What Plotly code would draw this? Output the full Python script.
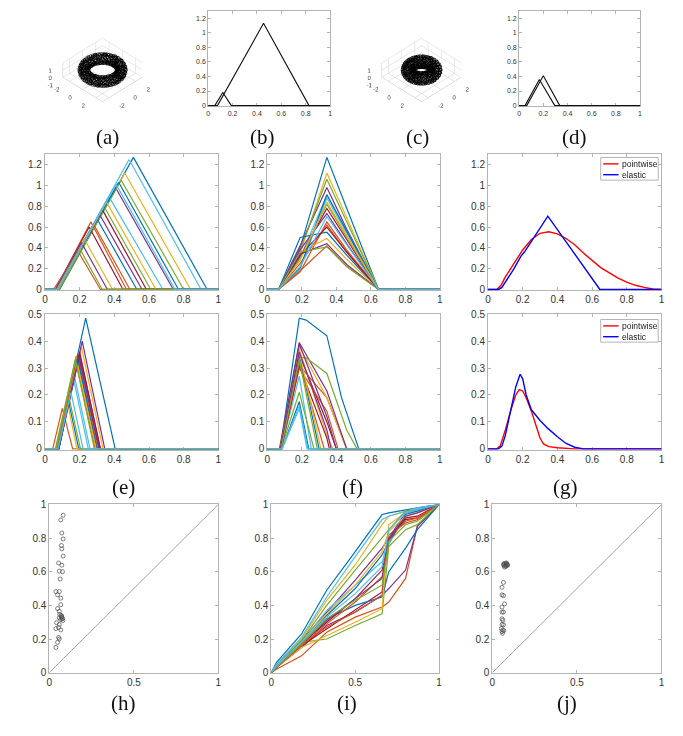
import numpy as np
import plotly.graph_objects as go

W, H = 683, 736
MC = ['#0072BD', '#D95319', '#EDB120', '#7E2F8E', '#77AC30', '#4DBEEE', '#A2142F']

# ---------------- data ----------------
# (a), (c): torus point clouds (R, r) and sample count
TORUS_A = (2.0, 0.5)
TORUS_C = (1.45, 0.6)
N_TORUS = 750
TICKS3_XY = [-2, 0, 2]
TICKS3_Z = [-1, 0, 1]

# (b) landscape triangles
B_START = [0.054, 0.076]
B_PEAK_X = [0.12, 0.454]
B_PEAK_Y = [0.18, 1.13]
B_END = [0.19, 0.827]
# (d)
D_START = [0.049, 0.063]
D_PEAK_X = [0.167, 0.20]
D_PEAK_Y = [0.358, 0.41]
D_END = [0.295, 0.336]

# (e) upper: triangles
E1_START = [0.085, 0.06, 0.08, 0.08, 0.08, 0.07, 0.06, 0.07, 0.05, 0.06,
            0.075, 0.075, 0.075, 0.075, 0.075, 0.07, 0.075, 0.06, 0.08, 0.07]
E1_PEAK_X = [0.51, 0.265, 0.46, 0.41, 0.44, 0.485, 0.255, 0.30, 0.19, 0.225,
             0.315, 0.34, 0.37, 0.33, 0.425, 0.28, 0.355, 0.21, 0.205, 0.41]
E1_PEAK_Y = [1.27, 0.65, 1.12, 0.97, 1.05, 1.25, 0.60, 0.68, 0.37, 0.49,
             0.72, 0.80, 0.89, 0.77, 1.03, 0.63, 0.84, 0.45, 0.38, 1.01]
E1_END = [0.935, 0.47, 0.84, 0.74, 0.80, 0.90, 0.45, 0.53, 0.32, 0.39,
          0.56, 0.61, 0.68, 0.585, 0.77, 0.49, 0.64, 0.36, 0.33, 0.75]

# (f) upper: aligned landscapes
F1_NODES_X = [0, 0.065, 0.19, 0.345, 0.46, 0.645, 1.0]
F1_AT19 = [0.40, 0.17, 0.35, 0.42, 0.38, 0.30, 0.32, 0.50, 0.25, 0.36,
           0.38, 0.30, 0.20, 0.33, 0.21, 0.18, 0.28, 0.34, 0.36, 0.22]
F1_PEAK = [1.27, 0.65, 1.12, 0.98, 1.06, 0.91, 0.78, 0.55, 0.62, 0.49,
           0.73, 0.82, 0.88, 0.60, 0.91, 0.42, 0.84, 0.44, 0.41, 0.70]
F1_AT46 = [0.78, 0.38, 0.69, 0.58, 0.65, 0.56, 0.48, 0.33, 0.36, 0.29,
           0.44, 0.50, 0.54, 0.36, 0.56, 0.22, 0.52, 0.24, 0.22, 0.43]

# (g) upper: means
G1_RED_X = [0, 0.05, 0.075, 0.1, 0.15, 0.2, 0.25, 0.3, 0.35, 0.4, 0.45, 0.5,
            0.55, 0.6, 0.65, 0.7, 0.75, 0.8, 0.85, 0.9, 0.95, 1.0]
G1_RED_Y = [0, 0, 0.04, 0.12, 0.25, 0.38, 0.48, 0.54, 0.555, 0.535, 0.49, 0.43,
            0.35, 0.28, 0.21, 0.16, 0.11, 0.07, 0.04, 0.02, 0.004, 0]
G1_BLUE_X = [0, 0.06, 0.08, 0.1, 0.15, 0.19, 0.21, 0.345, 0.645, 1.0]
G1_BLUE_Y = [0, 0, 0.02, 0.07, 0.2, 0.32, 0.36, 0.705, 0, 0]

# (e) lower
E2_START = [0.07, 0.045, 0.08, 0.08, 0.06, 0.08, 0.075, 0.08, 0.065, 0.07,
            0.08, 0.065, 0.075, 0.075, 0.08, 0.07, 0.075, 0.075, 0.065, 0.075]
E2_PEAK_X = [0.235, 0.10, 0.21, 0.215, 0.18, 0.17, 0.195, 0.135, 0.19, 0.13,
             0.20, 0.135, 0.165, 0.20, 0.19, 0.18, 0.185, 0.195, 0.175, 0.15]
E2_PEAK_Y = [0.485, 0.15, 0.38, 0.40, 0.345, 0.27, 0.35, 0.18, 0.34, 0.17,
             0.35, 0.20, 0.26, 0.36, 0.33, 0.32, 0.32, 0.34, 0.33, 0.21]
E2_END = [0.405, 0.16, 0.335, 0.345, 0.30, 0.26, 0.31, 0.195, 0.305, 0.185,
          0.32, 0.205, 0.25, 0.32, 0.30, 0.29, 0.295, 0.315, 0.285, 0.22]

# (f) lower
F2_PEAK_NODE = 0.185
F2_SHOULDER_NODE = 0.225
F2_MID_NODE = 0.345
F2_START = [0.075, 0.08, 0.075, 0.07, 0.075, 0.08, 0.075, 0.085, 0.08, 0.075,
            0.075, 0.08, 0.085, 0.08, 0.075, 0.075, 0.075, 0.075, 0.08, 0.085]
F2_PEAK = [0.485, 0.31, 0.38, 0.395, 0.34, 0.27, 0.35, 0.175, 0.30, 0.37,
           0.39, 0.21, 0.15, 0.31, 0.35, 0.32, 0.36, 0.36, 0.33, 0.16]
F2_SHOULDER = [0.478, None, None, None, 0.338, None, None, None, None, None,
               None, None, None, None, None, None, None, None, None, None]
F2_AT345 = [0.42, 0.19, 0.19, 0.215, 0.28, None, 0.10, None, 0.14, 0.05,
            0.12, None, None, 0.04, None, None, None, 0.07, None, None]
F2_KNEE = [(0.43, 0.19), None, None, None, (0.46, 0.07), None, None, None, None, None,
           None, None, None, None, None, None, None, None, None, None]
F2_END = [0.53, 0.46, 0.46, 0.46, 0.52, 0.255, 0.40, 0.24, 0.41, 0.38,
          0.40, 0.27, 0.23, 0.36, 0.30, 0.33, 0.31, 0.37, 0.29, 0.235]

# (g) lower
G2_RED_X = [0, 0.05, 0.07, 0.1, 0.13, 0.16, 0.18, 0.2, 0.22, 0.25, 0.28, 0.3,
            0.32, 0.35, 0.4, 0.45, 0.5, 1.0]
G2_RED_Y = [0, 0, 0.01, 0.07, 0.14, 0.2, 0.22, 0.215, 0.19, 0.14, 0.08, 0.04,
            0.018, 0.008, 0.004, 0.001, 0, 0]
G2_BLUE_X = [0, 0.06, 0.08, 0.1, 0.13, 0.16, 0.185, 0.2, 0.22, 0.25, 0.3, 0.345,
             0.4, 0.45, 0.5, 0.55, 1.0]
G2_BLUE_Y = [0, 0, 0.01, 0.05, 0.14, 0.23, 0.277, 0.26, 0.2, 0.145, 0.105, 0.076,
             0.045, 0.02, 0.006, 0, 0]

LEGEND_NAMES = ['pointwise', 'elastic']
LEGEND_COLORS = ['#ff0000', '#0000ff']

# (h) scatter
H_X = [0.082, 0.068, 0.074, 0.082, 0.072, 0.074, 0.082, 0.055, 0.074, 0.059,
       0.078, 0.064, 0.039, 0.059, 0.049, 0.068, 0.068, 0.049, 0.059, 0.062,
       0.074, 0.059, 0.078, 0.068, 0.043, 0.059, 0.055, 0.039, 0.068, 0.055,
       0.059, 0.049, 0.039, 0.072, 0.076, 0.08, 0.07]
H_Y = [0.936, 0.908, 0.83, 0.795, 0.756, 0.736, 0.693, 0.652, 0.639, 0.604,
       0.60, 0.557, 0.482, 0.482, 0.463, 0.443, 0.404, 0.381, 0.365, 0.346,
       0.336, 0.326, 0.32, 0.316, 0.297, 0.287, 0.268, 0.262, 0.254, 0.209,
       0.20, 0.18, 0.15, 0.33, 0.325, 0.31, 0.34]
# (j) scatter
J_X = [0.066, 0.07, 0.074, 0.078, 0.082, 0.086, 0.09, 0.072, 0.08, 0.088,
       0.068, 0.084, 0.066, 0.057, 0.057, 0.066, 0.072, 0.057, 0.057, 0.066,
       0.057, 0.062, 0.057, 0.066, 0.053, 0.062, 0.057, 0.068, 0.06]
J_Y = [0.64, 0.645, 0.635, 0.65, 0.64, 0.645, 0.638, 0.628, 0.632, 0.642,
       0.648, 0.652, 0.536, 0.507, 0.462, 0.458, 0.409, 0.39, 0.36, 0.36,
       0.32, 0.312, 0.287, 0.285, 0.263, 0.253, 0.244, 0.25, 0.234]
DIAG = [0, 1]

# (i) warping functions
I_NODES_X = [0, 0.03, 0.18, 0.33, 0.5, 0.66, 0.70, 0.80, 0.87, 1.0]
I_CURVES = [
    [0, 0.06, 0.23, 0.49, 0.72, 0.94, 0.95, 0.97, 0.98, 1.0],
    [0, 0.02, 0.10, 0.24, 0.33, 0.39, 0.42, 0.56, 0.87, 1.0],
    [0, 0.04, 0.20, 0.43, 0.64, 0.88, 0.93, 0.96, 0.97, 1.0],
    [0, 0.03, 0.15, 0.28, 0.36, 0.46, 0.50, 0.61, 0.87, 1.0],
    [0, 0.03, 0.18, 0.20, 0.28, 0.35, 0.75, 0.85, 0.88, 1.0],
    [0, 0.05, 0.21, 0.45, 0.69, 0.91, 0.93, 0.96, 0.98, 1.0],
    [0, 0.03, 0.16, 0.26, 0.37, 0.48, 0.80, 0.91, 0.92, 1.0],
    [0, 0.04, 0.17, 0.32, 0.40, 0.45, 0.60, 0.74, 0.85, 1.0],
    [0, 0.03, 0.17, 0.27, 0.36, 0.46, 0.82, 0.89, 0.91, 1.0],
    [0, 0.03, 0.15, 0.22, 0.30, 0.38, 0.88, 0.95, 0.96, 1.0],
    [0, 0.04, 0.19, 0.36, 0.55, 0.74, 0.80, 0.95, 0.97, 1.0],
    [0, 0.04, 0.19, 0.40, 0.61, 0.80, 0.85, 0.96, 0.97, 1.0],
    [0, 0.04, 0.18, 0.37, 0.52, 0.66, 0.76, 0.95, 0.97, 1.0],
    [0, 0.03, 0.17, 0.30, 0.44, 0.61, 0.78, 0.92, 0.93, 1.0],
    [0, 0.04, 0.18, 0.34, 0.50, 0.70, 0.78, 0.94, 0.96, 1.0],
    [0, 0.03, 0.16, 0.29, 0.42, 0.57, 0.80, 0.90, 0.92, 1.0],
    [0, 0.04, 0.18, 0.35, 0.52, 0.72, 0.84, 0.93, 0.95, 1.0],
    [0, 0.03, 0.17, 0.31, 0.44, 0.56, 0.79, 0.93, 0.95, 1.0],
    [0, 0.03, 0.17, 0.32, 0.43, 0.52, 0.78, 0.88, 0.90, 1.0],
    [0, 0.04, 0.18, 0.33, 0.47, 0.63, 0.85, 0.95, 0.97, 1.0],
]

LABELS = ['(a)', '(b)', '(c)', '(d)', '(e)', '(f)', '(g)', '(h)', '(i)', '(j)']

# ---------------- layout helpers ----------------
def px_x(v):
    return v / W

def px_y(v):
    return 1 - v / H

AX_COLOR = '#b4b4b4'
TICK_COLOR = '#333333'
SANS = 'Liberation Sans'

# panel boxes in pixels: (x0, x1, y0, y1)
BOX = {
    'b': (207, 330, 5, 102),
    'd': (520.7, 642.7, 5, 102),
    'e1': (42.3, 217.3, 150.7, 289),
    'f1': (266.7, 440.7, 150.7, 289),
    'g1': (489.3, 664.3, 150.7, 289),
    'e2': (42.3, 217.3, 313.3, 451),
    'f2': (266.7, 440.7, 313.3, 451),
    'g2': (489.3, 664.3, 313.3, 451),
    'h': (46.7, 217.3, 506.7, 677.7),
    'i': (270.7, 440.0, 506.7, 677.7),
    'j': (493.7, 664.3, 506.7, 677.7),
}
ORDER = ['b', 'd', 'e1', 'f1', 'g1', 'e2', 'f2', 'g2', 'h', 'i', 'j']
AXID = {k: ('' if n == 0 else str(n + 1)) for n, k in enumerate(ORDER)}

def fmt(v):
    return ('%.2f' % v).rstrip('0').rstrip('.')

def axis(key, which, rng, tv, fsize):
    x0, x1, y0, y1 = BOX[key]
    dom = [px_x(x0), px_x(x1)] if which == 'x' else [px_y(y1), px_y(y0)]
    d = dict(domain=dom, range=rng, tickvals=tv, ticktext=[fmt(v) for v in tv],
             showline=True, mirror='ticks', linecolor=AX_COLOR, linewidth=1,
             ticks='inside', ticklen=3, tickcolor=AX_COLOR, tickwidth=1,
             showgrid=False, zeroline=False, layer='below traces', fixedrange=True,
             tickfont=dict(family=SANS, size=fsize, color=TICK_COLOR))
    d['anchor'] = ('y' if which == 'x' else 'x') + AXID[key]
    return d

fig = go.Figure()

def line(key, xs, ys, color, width=1.2):
    a = AXID[key]
    fig.add_trace(go.Scatter(x=xs, y=ys, mode='lines', line=dict(color=color, width=width),
                             xaxis='x' + a, yaxis='y' + a, hoverinfo='skip',
                             showlegend=False))

def tri(s, p, h, e):
    return [0, s, p, e, 1], [0, 0, h, 0, 0]

# (b), (d)
for s, p, h, e in zip(B_START, B_PEAK_X, B_PEAK_Y, B_END):
    xs, ys = tri(s, p, h, e)
    line('b', xs, ys, '#111111', 1.1)
for s, p, h, e in zip(D_START, D_PEAK_X, D_PEAK_Y, D_END):
    xs, ys = tri(s, p, h, e)
    line('d', xs, ys, '#111111', 1.1)

# (e) upper
for k, (s, p, h, e) in enumerate(zip(E1_START, E1_PEAK_X, E1_PEAK_Y, E1_END)):
    xs, ys = tri(s, p, h, e)
    line('e1', xs, ys, MC[k % 7])
# (f) upper
for k, (a19, pk, a46) in enumerate(zip(F1_AT19, F1_PEAK, F1_AT46)):
    line('f1', F1_NODES_X, [0, 0, a19, pk, a46, 0, 0], MC[k % 7])
# (g) upper
line('g1', G1_RED_X, G1_RED_Y, LEGEND_COLORS[0], 1.4)
line('g1', G1_BLUE_X, G1_BLUE_Y, LEGEND_COLORS[1], 1.4)

# (e) lower
for k, (s, p, h, e) in enumerate(zip(E2_START, E2_PEAK_X, E2_PEAK_Y, E2_END)):
    xs, ys = tri(s, p, h, e)
    line('e2', xs, ys, MC[k % 7])
# (f) lower
for k in range(len(F2_PEAK)):
    xs = [0, F2_START[k], F2_PEAK_NODE]
    ys = [0, 0, F2_PEAK[k]]
    if F2_SHOULDER[k] is not None:
        xs.append(F2_SHOULDER_NODE); ys.append(F2_SHOULDER[k])
    if F2_AT345[k] is not None:
        xs.append(F2_MID_NODE); ys.append(F2_AT345[k])
    if F2_KNEE[k] is not None:
        xs.append(F2_KNEE[k][0]); ys.append(F2_KNEE[k][1])
    xs += [F2_END[k], 1.0]
    ys += [0, 0]
    line('f2', xs, ys, MC[k % 7])
# (g) lower
line('g2', G2_RED_X, G2_RED_Y, LEGEND_COLORS[0], 1.4)
line('g2', G2_BLUE_X, G2_BLUE_Y, LEGEND_COLORS[1], 1.4)

# (h), (j)
for key, xs, ys in (('h', H_X, H_Y), ('j', J_X, J_Y)):
    line(key, DIAG, DIAG, '#9a9a9a', 0.9)
    a = AXID[key]
    fig.add_trace(go.Scatter(x=xs, y=ys, mode='markers', xaxis='x' + a, yaxis='y' + a,
                             marker=dict(symbol='circle-open', size=4, color='#4a4a4a',
                                         line=dict(width=0.7)),
                             hoverinfo='skip', showlegend=False, cliponaxis=False))
# (i)
for k, ys in enumerate(I_CURVES):
    line('i', I_NODES_X, ys, MC[k % 7])

# ---- 3D tori
def torus(R, r, n):
    i = np.arange(1, n + 1)
    u = (i * 0.7548776662466927) % 1.0
    v = (i * 0.5698402909980532) % 1.0
    th, ph = 2 * np.pi * u, 2 * np.pi * v
    return ((R + r * np.cos(ph)) * np.cos(th), (R + r * np.cos(ph)) * np.sin(th), r * np.sin(ph))

for sc, (R, r) in (('scene', TORUS_A), ('scene2', TORUS_C)):
    x, y, z = torus(R, r, N_TORUS)
    fig.add_trace(go.Scatter3d(x=x, y=y, z=z, mode='markers', scene=sc,
                               marker=dict(symbol='circle-open', size=2, color='#000000'),
                               hoverinfo='skip', showlegend=False))

def ax3(tv, rng):
    return dict(range=rng, tickvals=tv, ticktext=[str(v) for v in tv], autorange=False,
                showbackground=False, showgrid=True, gridcolor='#d2d2d2', gridwidth=1,
                showline=True, linecolor='#c4c4c4', zeroline=False, ticks='',
                tickangle=0,
                tickfont=dict(family=SANS, size=8.5, color='#444444'),
                title=dict(text=''), showspikes=False)

EL = np.radians(38)
K = 1.6
cam = dict(eye=dict(x=K * np.cos(EL) * 0.7071, y=-K * np.cos(EL) * 0.7071, z=K * np.sin(EL)),
           up=dict(x=0, y=0, z=1), center=dict(x=0, y=0, z=0),
           projection=dict(type='orthographic'))

def scene(x0, x1, y0, y1):
    return dict(domain=dict(x=[px_x(x0), px_x(x1)], y=[px_y(y1), px_y(y0)]),
                xaxis=ax3(TICKS3_XY, [-3, 3]), yaxis=ax3(TICKS3_XY, [-3, 3]),
                zaxis=ax3(TICKS3_Z, [-1, 1]), aspectmode='manual',
                aspectratio=dict(x=1, y=1, z=1 / 3), camera=cam, dragmode=False,
                bgcolor='white')

layout = dict(width=W, height=H, margin=dict(l=0, r=0, t=0, b=0),
              paper_bgcolor='white', plot_bgcolor='white', showlegend=False,
              scene=scene(25, 175, 8, 122), scene2=scene(347, 497, 8, 122))

ROW1 = dict(y=([-0.01, 1.3], [0, 0.2, 0.4, 0.6, 0.8, 1.0, 1.2]), x=([0, 1], [0, 0.2, 0.4, 0.6, 0.8, 1.0]), fs=7)
ROW2 = dict(y=([-0.008, 1.3], [0, 0.2, 0.4, 0.6, 0.8, 1.0, 1.2]), x=([0, 1], [0, 0.2, 0.4, 0.6, 0.8, 1.0]), fs=10)
ROW3 = dict(y=([-0.003, 0.5], [0, 0.1, 0.2, 0.3, 0.4, 0.5]), x=([0, 1], [0, 0.2, 0.4, 0.6, 0.8, 1.0]), fs=10)
ROW4 = dict(y=([0, 1], [0, 0.2, 0.4, 0.6, 0.8, 1.0]), x=([0, 1], [0, 0.5, 1.0]), fs=10)
ROWS = {'b': ROW1, 'd': ROW1, 'e1': ROW2, 'f1': ROW2, 'g1': ROW2,
        'e2': ROW3, 'f2': ROW3, 'g2': ROW3, 'h': ROW4, 'i': ROW4, 'j': ROW4}
for key in ORDER:
    rw = ROWS[key]
    a = AXID[key]
    layout['xaxis' + a] = axis(key, 'x', rw['x'][0], rw['x'][1], rw['fs'])
    layout['yaxis' + a] = axis(key, 'y', rw['y'][0], rw['y'][1], rw['fs'])

# compact legends (box, line samples, labels) for the two (g) panels
shapes = []
annotations = []
for top in (154, 318.7):
    shapes.append(dict(type='rect', xref='paper', yref='paper', x0=px_x(603), x1=px_x(661),
                       y0=px_y(top + 23), y1=px_y(top), line=dict(color=AX_COLOR, width=1),
                       fillcolor='white', layer='above'))
    for n, (name, col) in enumerate(zip(LEGEND_NAMES, LEGEND_COLORS)):
        yy = top + 6.5 + 11 * n
        shapes.append(dict(type='line', xref='paper', yref='paper', x0=px_x(605.5), x1=px_x(621),
                           y0=px_y(yy), y1=px_y(yy), line=dict(color=col, width=1.4), layer='above'))
        annotations.append(dict(text=name, x=px_x(622), y=px_y(yy), xref='paper', yref='paper',
                                xanchor='left', yanchor='middle', showarrow=False,
                                font=dict(family=SANS, size=8.5, color='#222222')))

LABEL_POS = [(105, 133), (262, 133), (418, 133), (577, 133), (122, 489), (353, 489),
             (567, 489), (122, 709), (347, 709), (569, 709)]
for t, (cx, cy) in zip(LABELS, LABEL_POS):
    annotations.append(dict(text=t, x=px_x(cx), y=px_y(cy), xref='paper', yref='paper',
                            xanchor='center', yanchor='middle', showarrow=False,
                            font=dict(family='Liberation Serif', size=21, color='#111111')))
layout['shapes'] = shapes
layout['annotations'] = annotations

fig.update_layout(**layout)
fig.write_html('out.html', config={'displayModeBar': False},
               post_script="document.body.style.margin='0';document.body.style.overflow='hidden';")
